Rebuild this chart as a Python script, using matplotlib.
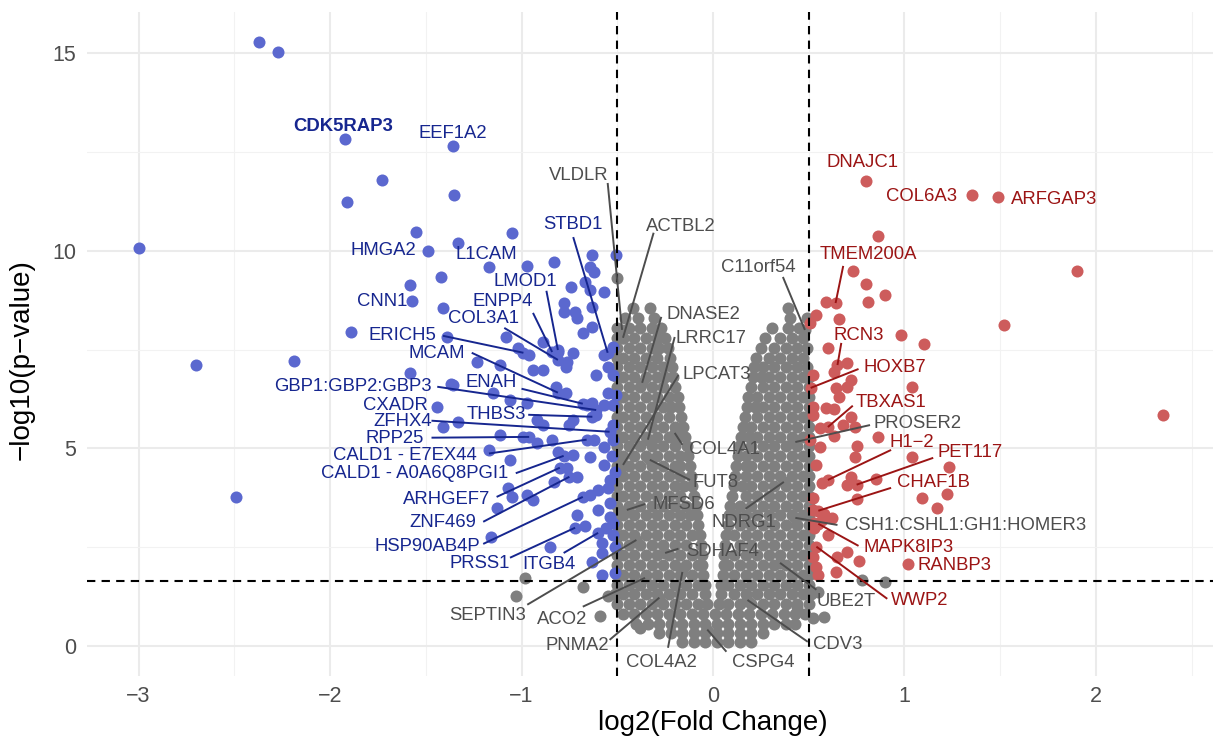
import matplotlib
matplotlib.use("Agg")
import matplotlib.pyplot as plt
from matplotlib.ticker import MultipleLocator

plt.rcParams['font.family'] = ['Liberation Sans', 'DejaVu Sans']

# significant down (blue), not labelled
blue_x = [-2.37, -2.27, -1.73, -1.91, -1.35, -3.00, -1.55, -1.33, -1.05, -0.97, -0.83,
          -1.42, -1.58, -1.41, -1.89, -2.19, -2.70, -2.49, -1.58, -1.39, -1.37, -1.33,
          -1.41, -1.17, -1.23, -1.11, -1.08, -1.02, -0.96, -0.94, -0.89, -0.89, -1.15,
          -1.06, -0.97, -0.82, -0.77, -0.77, -0.76, -0.73, -0.81, -0.68, -0.63, -0.57,
          -0.74, -0.78, -0.78, -0.72, -0.71, -0.67, -0.64, -0.62, -0.63, -0.505, -0.64,
          -0.63, -0.57, -0.52, -0.55, -0.61, -0.52, -0.55, -0.505, -0.63, -0.57, -0.61,
          -0.66, -0.52, -0.73, -0.92, -0.89, -0.75, -1.11, -0.99, -0.92, -0.84, -0.62,
          -0.57, -0.52, -0.73, -0.81, -0.64, -0.57, -0.76, -0.71, -1.06, -1.07, -1.05,
          -0.97, -0.94, -0.83, -1.13, -1.16, -0.64, -0.60, -0.55, -0.54, -0.54, -0.71,
          -0.67, -0.56, -0.52, -0.85, -0.63, -0.58, -0.51, -0.58, -0.51, -1.36, -0.54,
          -0.51, -0.52, -0.53, -0.52, -0.60, -0.58]
blue_y = [15.29, 15.04, 11.80, 11.24, 11.42, 10.08, 10.48, 10.20, 10.46, 9.62, 9.72,
          9.34, 9.14, 8.56, 7.95, 7.22, 7.11, 3.77, 6.91, 7.82, 6.63, 5.67,
          5.54, 4.96, 7.19, 7.11, 7.82, 7.54, 7.37, 6.99, 6.99, 7.70, 6.41,
          6.23, 6.15, 6.56, 6.41, 7.06, 7.19, 7.42, 7.44, 7.92, 8.08, 8.96,
          9.09, 8.68, 8.46, 8.46, 8.30, 9.22, 9.59, 9.47, 9.90, 9.90, 9.01,
          8.58, 7.37, 7.57, 7.06, 6.86, 6.86, 6.41, 6.35, 6.15, 6.10, 5.85,
          6.10, 5.59, 5.72, 5.72, 5.59, 5.59, 5.34, 5.29, 5.14, 5.22, 5.22,
          5.04, 5.22, 4.84, 4.91, 4.78, 4.58, 4.51, 4.28, 4.71, 4.00, 3.77,
          3.82, 3.70, 4.15, 3.49, 2.76, 3.82, 3.95, 4.00, 3.62, 3.27, 3.32,
          3.04, 2.99, 2.81, 2.51, 2.13, 2.35, 2.51, 1.80, 1.85, 6.61, 4.20,
          4.40, 3.10, 4.80, 6.10, 3.45, 2.60]

# significant up (red), not labelled
red_x = [0.86, 1.90, 0.73, 0.80, 0.90, 0.81, 0.59, 0.54, 0.66, 0.505, 1.52, 0.98,
         1.10, 0.60, 0.70, 0.63, 0.52, 0.72, 0.70, 0.64, 1.04, 0.66, 0.52, 0.59,
         0.63, 0.52, 0.72, 0.68, 0.56, 0.74, 0.63, 0.86, 2.35, 0.505, 0.75, 0.56,
         0.74, 1.04, 0.54, 1.23, 0.72, 0.85, 0.57, 0.70, 1.22, 0.52, 0.75, 1.09,
         1.17, 0.52, 0.62, 0.57, 0.53, 0.70, 0.76, 0.65, 0.52, 0.54, 0.64, 0.55,
         0.58, 0.53, 0.60]
red_y = [10.38, 9.49, 9.49, 9.16, 8.89, 8.71, 8.71, 8.38, 8.28, 8.18, 8.13, 7.87,
         7.65, 7.54, 7.16, 6.94, 6.86, 6.73, 6.56, 6.53, 6.56, 6.30, 6.05, 6.03,
         6.00, 5.85, 5.80, 5.59, 5.52, 5.54, 5.32, 5.29, 5.85, 5.22, 5.06, 5.04,
         4.78, 4.78, 4.58, 4.53, 4.28, 4.23, 4.13, 4.08, 3.85, 3.75, 3.72, 3.75,
         3.49, 3.44, 3.24, 3.19, 2.99, 2.38, 2.15, 2.25, 2.25, 2.00, 1.87, 1.80,
         3.35, 3.10, 2.80]

# not significant (grey): rows of the cloud as (y, left arm x, right arm x)
grey_rows = [
    (0.10, [-0.16, -0.10, -0.04], [0.02, 0.08, 0.14, 0.20]),
    (0.32, [-0.28, -0.22, -0.16, -0.10, -0.04], [0.02, 0.08, 0.14, 0.20, 0.26]),
    (0.56, [-0.40, -0.34, -0.28, -0.22, -0.16, -0.10, -0.04], [0.02, 0.08, 0.14, 0.20, 0.26, 0.32, 0.38, 0.43]),
    (0.80, [-0.47, -0.41, -0.35, -0.29, -0.23, -0.17, -0.11, -0.05], [0.01, 0.07, 0.13, 0.19, 0.25, 0.31, 0.37, 0.43, 0.48]),
    (1.05, [-0.50, -0.44, -0.38, -0.32, -0.26, -0.20, -0.14, -0.08, -0.03], [0.03, 0.08, 0.14, 0.20, 0.26, 0.32, 0.38, 0.44, 0.50]),
    (1.30, [-0.51, -0.47, -0.41, -0.35, -0.29, -0.23, -0.17, -0.11, -0.04], [0.04, 0.11, 0.17, 0.23, 0.29, 0.35, 0.41, 0.47, 0.51]),
    (1.55, [-0.50, -0.44, -0.38, -0.32, -0.26, -0.20, -0.14, -0.08, -0.04], [0.04, 0.08, 0.14, 0.20, 0.26, 0.32, 0.38, 0.44, 0.50]),
    (1.80, [-0.50, -0.47, -0.41, -0.35, -0.29, -0.23, -0.17, -0.11, -0.05], [0.05, 0.11, 0.17, 0.23, 0.29, 0.35, 0.41, 0.47, 0.50]),
    (2.05, [-0.50, -0.44, -0.38, -0.32, -0.26, -0.20, -0.14, -0.08, -0.055], [0.055, 0.08, 0.14, 0.20, 0.26, 0.32, 0.38, 0.44, 0.50]),
    (2.30, [-0.50, -0.47, -0.41, -0.35, -0.29, -0.23, -0.17, -0.11, -0.06], [0.06, 0.11, 0.17, 0.23, 0.29, 0.35, 0.41, 0.47, 0.50]),
    (2.55, [-0.50, -0.44, -0.38, -0.32, -0.26, -0.20, -0.14, -0.065], [0.065, 0.14, 0.20, 0.26, 0.32, 0.38, 0.44, 0.50]),
    (2.80, [-0.50, -0.47, -0.41, -0.35, -0.29, -0.23, -0.17, -0.11, -0.07], [0.07, 0.11, 0.17, 0.23, 0.29, 0.35, 0.41, 0.47, 0.50]),
    (3.05, [-0.50, -0.44, -0.38, -0.32, -0.26, -0.20, -0.14, -0.078], [0.078, 0.14, 0.20, 0.26, 0.32, 0.38, 0.44, 0.50]),
    (3.30, [-0.50, -0.47, -0.41, -0.35, -0.29, -0.23, -0.17, -0.12, -0.084], [0.084, 0.12, 0.17, 0.23, 0.29, 0.35, 0.41, 0.47, 0.50]),
    (3.55, [-0.50, -0.44, -0.38, -0.32, -0.26, -0.20, -0.14, -0.09], [0.09, 0.14, 0.20, 0.26, 0.32, 0.38, 0.44, 0.50]),
    (3.80, [-0.50, -0.47, -0.41, -0.35, -0.29, -0.23, -0.17, -0.10], [0.10, 0.17, 0.23, 0.29, 0.35, 0.41, 0.47, 0.50]),
    (4.05, [-0.50, -0.44, -0.38, -0.32, -0.26, -0.20, -0.15, -0.11], [0.11, 0.15, 0.20, 0.26, 0.32, 0.38, 0.44, 0.50]),
    (4.30, [-0.50, -0.47, -0.41, -0.35, -0.29, -0.23, -0.17, -0.115], [0.115, 0.17, 0.23, 0.29, 0.35, 0.41, 0.47, 0.50]),
    (4.55, [-0.50, -0.44, -0.38, -0.32, -0.26, -0.20, -0.17, -0.122], [0.122, 0.17, 0.20, 0.26, 0.32, 0.38, 0.44, 0.50]),
    (4.80, [-0.50, -0.47, -0.41, -0.35, -0.29, -0.23, -0.17, -0.13], [0.13, 0.17, 0.23, 0.29, 0.35, 0.41, 0.47, 0.50]),
    (5.05, [-0.50, -0.44, -0.38, -0.32, -0.26, -0.20, -0.137], [0.137, 0.20, 0.26, 0.32, 0.38, 0.44, 0.50]),
    (5.30, [-0.50, -0.47, -0.41, -0.35, -0.29, -0.23, -0.19, -0.145], [0.145, 0.19, 0.23, 0.29, 0.35, 0.41, 0.47, 0.50]),
    (5.55, [-0.50, -0.44, -0.38, -0.32, -0.26, -0.20, -0.155], [0.155, 0.20, 0.26, 0.32, 0.38, 0.44, 0.50]),
    (5.80, [-0.50, -0.47, -0.41, -0.35, -0.29, -0.23, -0.165], [0.165, 0.23, 0.29, 0.35, 0.41, 0.47, 0.50]),
    (6.05, [-0.50, -0.44, -0.38, -0.32, -0.26, -0.22, -0.175], [0.175, 0.22, 0.26, 0.32, 0.38, 0.44, 0.50]),
    (6.30, [-0.50, -0.47, -0.41, -0.35, -0.29, -0.23, -0.185], [0.185, 0.23, 0.29, 0.35, 0.41, 0.47, 0.50]),
    (6.55, [-0.50, -0.44, -0.38, -0.32, -0.26, -0.20], [0.20, 0.26, 0.32, 0.38, 0.44, 0.50]),
    (6.80, [-0.50, -0.47, -0.41, -0.35, -0.29, -0.25, -0.21], [0.21, 0.25, 0.29, 0.35, 0.41, 0.47, 0.50]),
    (7.05, [-0.50, -0.44, -0.38, -0.32, -0.26, -0.215], [0.215, 0.26, 0.32, 0.38, 0.44, 0.49]),
    (7.30, [-0.50, -0.47, -0.41, -0.35, -0.29, -0.225], [0.225, 0.29, 0.35, 0.41, 0.47]),
    (7.55, [-0.50, -0.44, -0.38, -0.32, -0.28, -0.235], [0.25, 0.32, 0.38, 0.44, 0.49]),
    (7.80, [-0.50, -0.47, -0.41, -0.35, -0.29, -0.25], [0.27, 0.35, 0.41, 0.47]),
    (8.05, [-0.50, -0.44, -0.38, -0.32, -0.27], [0.31, 0.39, 0.45]),
    (8.30, [-0.46, -0.39, -0.31], [0.40, 0.49]),
    (8.55, [-0.42, -0.33], [0.39]),
]
# scattered grey points outside the main cloud
grey_extra_x = [-0.50, -0.98, -1.03, -0.68, -0.59, 0.78, 0.90, 0.58, 0.52, 0.44, -0.38, -0.55, 0.55]
grey_extra_y = [9.32, 1.72, 1.27, 1.50, 0.75, 1.67, 1.62, 0.73, 0.71, 0.99, 0.46, 1.25, 1.35]

# labelled genes: name, point x, point y
blue_genes = ["CDK5RAP3", "EEF1A2", "HMGA2", "L1CAM", "CNN1", "STBD1", "LMOD1", "ENPP4",
              "COL3A1", "ERICH5", "MCAM", "ENAH", "GBP1:GBP2:GBP3", "CXADR", "THBS3",
              "ZFHX4", "RPP25", "CALD1 - E7EX44", "CALD1 - A0A6Q8PGI1", "ARHGEF7",
              "ZNF469", "HSP90AB4P", "PRSS1", "ITGB4"]
blue_gx = [-1.92, -1.36, -1.49, -1.17, -1.57, -0.55, -0.81, -0.84, -0.81, -0.99, -0.81, -0.68,
           -0.61, -1.44, -0.63, -0.54, -0.96, -0.66, -0.78, -0.80, -0.75, -0.68, -0.72, -0.60]
blue_gy = [12.84, 12.66, 10.00, 9.59, 8.73, 7.42, 7.49, 7.44, 7.24, 7.42, 6.41, 6.13,
           5.97, 6.05, 5.80, 5.42, 5.29, 5.22, 4.81, 4.51, 4.28, 3.77, 2.99, 2.86]

red_genes = ["DNAJC1", "COL6A3", "ARFGAP3", "TMEM200A", "RCN3", "HOXB7", "TBXAS1", "H1\u22122",
             "PET117", "CHAF1B", "MAPK8IP3", "RANBP3", "WWP2"]
red_gx = [0.80, 1.35, 1.49, 0.64, 0.65, 0.51, 0.60, 0.60, 0.75, 0.55, 0.55, 1.02, 0.54]
red_gy = [11.77, 11.42, 11.37, 8.68, 7.11, 6.53, 5.54, 4.20, 4.08, 3.42, 3.09, 2.08, 2.51]

grey_genes = ["VLDLR", "ACTBL2", "C11orf54", "DNASE2", "LRRC17", "LPCAT3", "COL4A1", "FUT8",
              "MFSD6", "NDRG1", "SDHAF4", "SEPTIN3", "ACO2", "PNMA2", "COL4A2", "CSPG4",
              "CDV3", "UBE2T", "PROSER2", "CSH1:CSHL1:GH1:HOMER3"]
grey_gx = [-0.475, -0.47, 0.48, -0.37, -0.34, -0.47, -0.20, -0.33, -0.45, 0.37, -0.25, -0.40,
           -0.355, -0.28, -0.16, -0.03, 0.18, 0.35, 0.43, 0.43]
grey_gy = [8.00, 7.80, 8.00, 6.66, 5.22, 4.58, 5.39, 4.71, 3.44, 4.15, 2.35, 2.68,
           1.72, 1.22, 1.87, 0.41, 1.16, 2.10, 5.16, 3.24]

fc_cut = 0.5
p_cut = 1.65

# label layout: text centre and start of the leader line (None = no line)
blue_layout = [((-1.93, 13.16), None), ((-1.36, 12.98), None), ((-1.72, 10.00), None),
               ((-1.185, 9.92), None), ((-1.73, 8.73), None),
               ((-0.73, 10.66), (-0.73, 10.35)), ((-0.98, 9.22), (-0.87, 8.99)),
               ((-1.10, 8.73), (-0.94, 8.43)), ((-1.20, 8.28), (-1.09, 8.05)),
               ((-1.62, 7.85), (-1.41, 7.85)), ((-1.44, 7.39), (-1.26, 7.42)),
               ((-1.16, 6.68), (-1.00, 6.51)), ((-1.88, 6.56), (-1.44, 6.56)),
               ((-1.66, 6.09), None), ((-1.13, 5.85), (-0.965, 5.85)),
               ((-1.62, 5.67), (-1.47, 5.70)), ((-1.66, 5.25), (-1.47, 5.27)),
               ((-1.61, 4.83), (-1.17, 4.87)), ((-1.56, 4.37), (-1.03, 4.37)),
               ((-1.39, 3.70), (-1.13, 3.77)), ((-1.41, 3.11), (-1.20, 3.14)),
               ((-1.49, 2.51), (-1.20, 2.58)), ((-1.22, 2.08), (-1.06, 2.23)),
               ((-0.855, 2.05), (-0.78, 2.35))]
red_layout = [((0.78, 12.25), None), ((1.09, 11.39), None), ((1.78, 11.29), None),
              ((0.81, 9.92), (0.68, 9.62)), ((0.76, 7.87), (0.67, 7.67)),
              ((0.95, 7.06), (0.76, 7.01)), ((0.93, 6.15), (0.73, 6.08)),
              ((1.04, 5.16), (0.93, 4.96)), ((1.34, 4.89), (1.15, 4.76)),
              ((1.15, 4.13), (0.93, 4.00)), ((1.02, 2.48), (0.76, 2.53)),
              ((1.26, 2.03), None), ((1.08, 1.14), (0.91, 1.19))]
grey_layout = [((-0.70, 11.92), (-0.55, 11.72)), ((-0.167, 10.63), (-0.31, 10.46)),
               ((0.235, 9.57), (0.365, 9.34)), ((-0.05, 8.38), (-0.27, 8.33)),
               ((-0.01, 7.77), (-0.20, 7.82)), ((0.02, 6.86), (-0.18, 6.86)),
               ((0.06, 4.96), (-0.16, 5.09)), ((0.015, 4.13), (-0.12, 4.20)),
               ((-0.155, 3.59), (-0.355, 3.59)), ((0.16, 3.11), (0.17, 3.47)),
               ((0.05, 2.38), (-0.18, 2.46)), ((-1.175, 0.76), (-0.97, 1.04)),
               ((-0.79, 0.66), (-0.68, 0.99)), ((-0.71, 0.0), (-0.54, 0.15)),
               ((-0.27, -0.43), (-0.235, -0.05)), ((0.26, -0.43), (0.07, -0.15)),
               ((0.65, 0.03), (0.495, 0.10)), ((0.695, 1.11), (0.54, 1.42)),
               ((1.07, 5.62), (0.82, 5.59)), ((1.32, 3.04), (0.65, 3.06))]

grey_x = [x for y, left, right in grey_rows for x in left + right] + grey_extra_x
grey_y = [y for y, left, right in grey_rows for x in left + right] + grey_extra_y

c_grey, c_blue, c_red = "#7f7f7f", "#5b68cf", "#cd5c5c"
t_grey, t_blue, t_red = "#4d4d4d", "#16268f", "#9b1414"

fig = plt.figure(figsize=(12.13, 7.40), dpi=100)
ax = fig.add_axes([87 / 1213, 1 - 676 / 740, 1126 / 1213, 664 / 740])

ax.scatter(grey_x + grey_gx, grey_y + grey_gy, s=75, color=c_grey, linewidths=0, zorder=2)
ax.scatter(blue_x + blue_gx, blue_y + blue_gy, s=75, color=c_blue, linewidths=0, zorder=3)
ax.scatter(red_x + red_gx, red_y + red_gy, s=75, color=c_red, linewidths=0, zorder=3)

for xv in (-fc_cut, fc_cut):
    ax.axvline(xv, color="black", lw=1.5, ls=(0, (4, 3)), zorder=4)
ax.axhline(p_cut, color="black", lw=1.5, ls=(0, (4, 3)), zorder=4)


def add_labels(names, gx, gy, layout, col, bold_first=False):
    for i, name in enumerate(names):
        (tx, ty), start = layout[i]
        if start is not None:
            ax.plot([start[0], gx[i]], [start[1], gy[i]], color=col, lw=1.4, zorder=5,
                    solid_capstyle="butt")
        fw = "bold" if (bold_first and i == 0) else "normal"
        ax.text(tx, ty, name, color=col, fontsize=13.3, ha="center", va="center",
                fontweight=fw, zorder=6)


add_labels(blue_genes, blue_gx, blue_gy, blue_layout, t_blue, bold_first=True)
add_labels(red_genes, red_gx, red_gy, red_layout, t_red)
add_labels(grey_genes, grey_gx, grey_gy, grey_layout, t_grey)

ax.set_xlim(-3.269, 2.611)
ax.set_ylim(-0.765, 16.05)
ax.xaxis.set_major_locator(MultipleLocator(1))
ax.xaxis.set_minor_locator(MultipleLocator(0.5))
ax.yaxis.set_major_locator(MultipleLocator(5))
ax.yaxis.set_minor_locator(MultipleLocator(2.5))
ax.grid(which="major", color="#ebebeb", lw=1.5, zorder=0)
ax.grid(which="minor", color="#f2f2f2", lw=0.8, zorder=0)
ax.set_axisbelow(True)
for sp in ax.spines.values():
    sp.set_visible(False)
ax.tick_params(which="both", length=0)
ax.tick_params(axis="x", pad=7, labelsize=15.5, labelcolor="#4d4d4d")
ax.tick_params(axis="y", pad=8, labelsize=15.5, labelcolor="#4d4d4d")

ax.set_xlabel("log2(Fold Change)", fontsize=20)
ax.set_ylabel("\u2212log10(p\u2212value)", fontsize=20)
ax.xaxis.set_label_coords((713 - 87) / 1126, -(723 - 676) / 664)
ax.xaxis.label.set_va("center")
ax.yaxis.set_label_coords((22 - 87) / 1126, (676 - 360) / 664)
ax.yaxis.label.set_va("center")

fig.savefig("out.png", dpi=100)
